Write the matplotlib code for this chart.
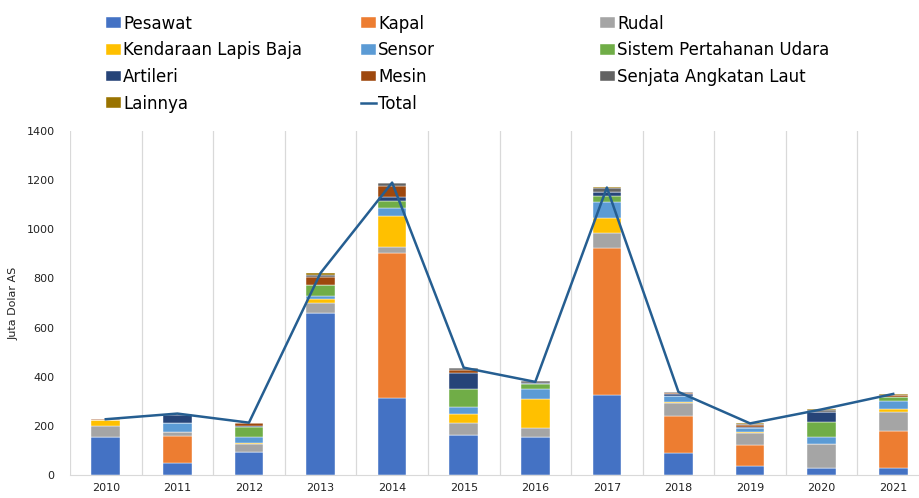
import numpy as np
import matplotlib
matplotlib.use("Agg")
import matplotlib.pyplot as plt

years = ["2010", "2011", "2012", "2013", "2014", "2015",
         "2016", "2017", "2018", "2019", "2020", "2021"]

# stacked segments (juta dolar AS)
pesawat    = [156, 50, 92, 661, 315, 163, 155, 327, 89, 38, 28, 30]
kapal      = [0, 110, 0, 0, 587, 0, 0, 598, 152, 84, 0, 150]
rudal      = [43, 16, 36, 40, 25, 49, 38, 60, 52, 49, 99, 78]
kendaraan  = [25, 0, 3, 14, 128, 38, 118, 60, 4, 4, 0, 12]
sensor     = [0, 37, 24, 15, 32, 26, 39, 66, 25, 15, 26, 30]
sistem     = [0, 0, 39, 42, 30, 75, 19, 26, 0, 0, 63, 17]
artileri   = [0, 32, 7, 3, 13, 64, 7, 13, 8, 7, 39, 0]
mesin      = [2, 3, 9, 32, 46, 12, 0, 0, 3, 7, 3, 9]
senjata    = [0, 0, 2, 6, 11, 8, 5, 19, 5, 3, 7, 0]
lainnya    = [0, 0, 0, 8, 0, 0, 0, 4, 0, 3, 2, 4]
total      = [227, 250, 213, 822, 1190, 437, 379, 1170, 338, 210, 267, 330]

series = [
    ("Pesawat", pesawat, "#4472C4"),
    ("Kapal", kapal, "#ED7D31"),
    ("Rudal", rudal, "#A5A5A5"),
    ("Kendaraan Lapis Baja", kendaraan, "#FFC000"),
    ("Sensor", sensor, "#5B9BD5"),
    ("Sistem Pertahanan Udara", sistem, "#70AD47"),
    ("Artileri", artileri, "#264478"),
    ("Mesin", mesin, "#9E480E"),
    ("Senjata Angkatan Laut", senjata, "#636363"),
    ("Lainnya", lainnya, "#997300"),
]

plt.rcParams['font.family'] = ['DejaVu Sans']

fig = plt.figure(figsize=(9.19, 4.98), dpi=100)
ax = fig.add_axes([70 / 919, 23 / 498, 859 / 919, 344 / 498])

x = np.arange(len(years))
bottom = np.zeros(len(years))
handles = []
for name, vals, col in series:
    b = ax.bar(x, vals, width=0.4, bottom=bottom, color=col, label=name,
               edgecolor="white", linewidth=0.3, zorder=2)
    bottom += np.array(vals)
    handles.append(b)

line, = ax.plot(x, total, color="#255E91", linewidth=1.8, label="Total", zorder=3)
handles.append(line)

ax.set_xlim(-0.5, 11.5)
ax.set_ylim(0, 1400)
ax.set_yticks(np.arange(0, 1401, 200))
ax.set_xticks(x)
ax.set_xticklabels(years)
ax.tick_params(axis="both", length=0, labelsize=8, colors="#222222")
ax.tick_params(axis="y", pad=11)
ax.tick_params(axis="x", pad=6)

# vertical separators between categories
ax.set_xticks(np.arange(-0.5, 12, 1), minor=True)
ax.grid(axis="x", which="minor", color="#D9D9D9", linewidth=0.9, zorder=0)
ax.tick_params(axis="x", which="minor", length=0)
for s in ["top", "right", "left"]:
    ax.spines[s].set_visible(False)
ax.spines["bottom"].set_color("#D9D9D9")

ax.set_ylabel("Juta Dolar AS", fontsize=8, color="#222222", labelpad=6)

# legend: three columns placed separately, row-wise order
columns = [[0, 3, 6, 9], [1, 4, 7, 10], [2, 5, 8]]
col_x = [99, 354, 593]
for idx, cx in zip(columns, col_x):
    leg = fig.legend([handles[i] for i in idx], [handles[i].get_label() for i in idx],
                     ncol=1, loc="upper left", bbox_to_anchor=(cx / 919, 1.0 - 8 / 498),
                     frameon=False, fontsize=12, handlelength=0.9, handleheight=0.6,
                     handletextpad=0.15, labelspacing=0.52, borderaxespad=0.0)

fig.savefig("out.png", dpi=100)
